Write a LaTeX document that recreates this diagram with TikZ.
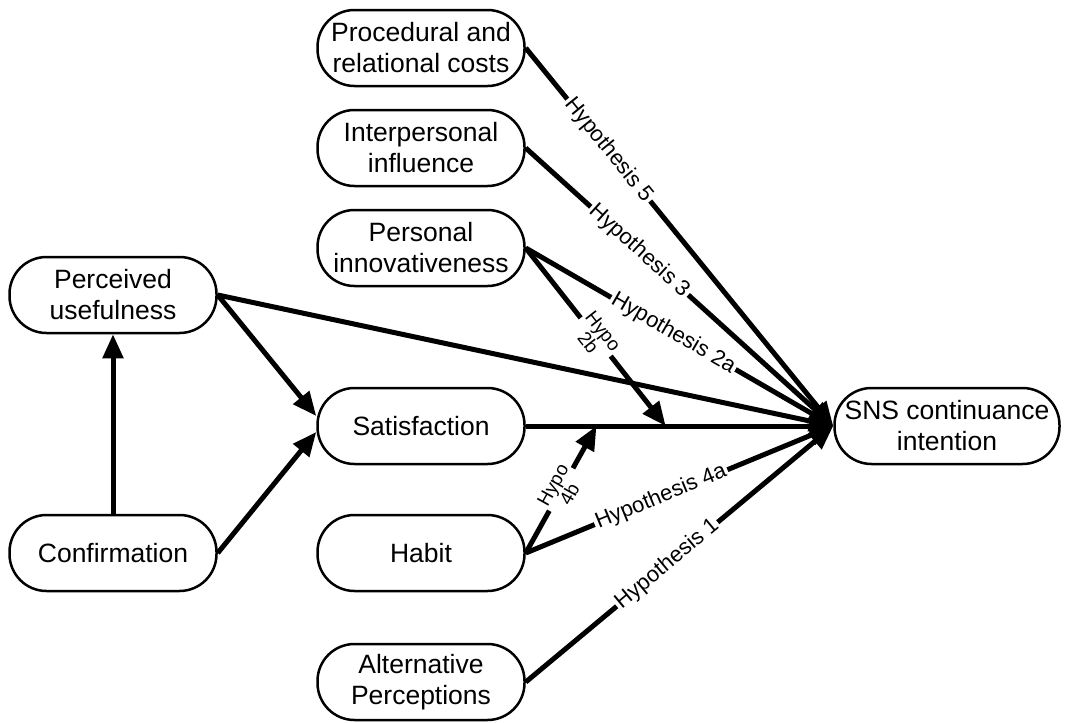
\documentclass[tikz,border=0pt]{standalone}
\usepackage{fontspec}
\setmainfont{Liberation Sans}
\usetikzlibrary{arrows.meta,calc}

\tikzset{
  box/.style={draw=black, line width=2.5pt, rounded corners=37pt, minimum width=207pt, minimum height=76pt, align=center, font=\fontsize{26.5}{31}\selectfont},
  link/.style={line width=5pt, -{Triangle[length=24pt,width=20pt]}},
  hyp/.style={midway, sloped, fill=white, inner sep=2pt, align=center, font=\fontsize{22}{22}\selectfont}
}

\begin{document}
\begin{tikzpicture}[x=1pt,y=-1pt]
                \useasboundingbox (0,0) rectangle (1066,723);

                \node [box] (pu) at (113,295) {Perceived\\usefulness};
                \node [box] (conf) at (113,553) {Confirmation};
                \node [box] (proc) at (421,48) {Procedural and\\relational costs};
                \node [box] (inter) at (421,148) {Interpersonal\\influence};
                \node [box] (pers) at (421,248) {Personal\\innovativeness};
                \node [box] (sat) at (421,426) {Satisfaction};
                \node [box] (habit) at (421,553) {Habit};
                \node [box] (alt) at (421,682) {Alternative\\Perceptions};
                \node [box, minimum width=225pt] (sns) at (947,426) {SNS continuance\\intention};

                % points on the satisfaction line
                \coordinate (m2b) at ($(sat.east)!0.455!(sns.west)$);
                \coordinate (m4b) at ($(sat.east)!0.23!(sns.west)$);

                \draw[link] (conf.north) -- (pu.south);
                \draw[link] (pu.east) -- ($(sat.west)+(0,-10)$);
                \draw[link] (conf.east) -- ($(sat.west)+(0,6)$);
                \draw[link] (pu.east) -- (sns.west);
                \draw[link] (sat.east) -- (sns.west);

                \draw[link] (proc.east) -- (sns.west) node[hyp, pos=0.27] {Hypothesis 5};
                \draw[link] (inter.east) -- (sns.west) node[hyp, pos=0.37] {Hypothesis 3};
                \draw[link] (pers.east) -- (sns.west) node[hyp, pos=0.48] {Hypothesis 2a};
                \draw[link] (habit.east) -- (sns.west) node[hyp, pos=0.44] {Hypothesis 4a};
                \draw[link] (alt.east) -- (sns.west) node[hyp, pos=0.46] {Hypothesis 1};

                \draw[link] (pers.east) -- (m2b) node[hyp, font=\fontsize{19}{19}\selectfont] {Hypo\\2b};
                \draw[link] (habit.east) -- (m4b) node[hyp, font=\fontsize{19}{19}\selectfont] {Hypo\\4b};
\end{tikzpicture}
\end{document}
